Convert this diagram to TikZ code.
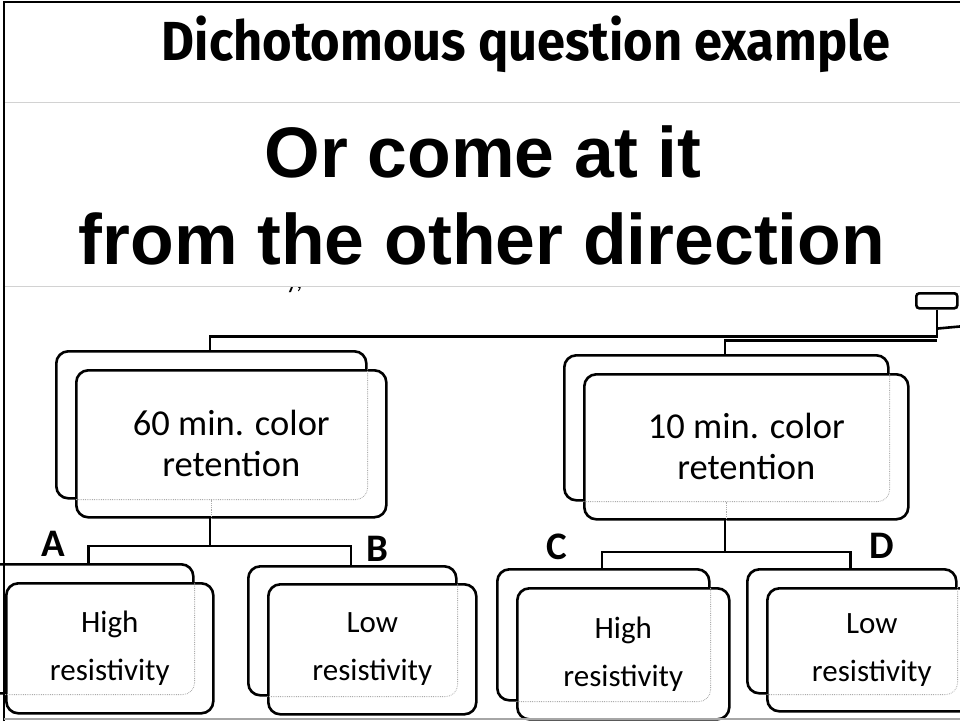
\documentclass[tikz,border=0pt]{standalone}
\usepackage{fontspec}
\setmainfont{Carlito}
\newfontfamily\headfont{Fira Sans}
\newfontfamily\bigfont{Liberation Sans}
\usepackage{tikz}

\definecolor{rulegray}{HTML}{D2D2D2}
\definecolor{ghostgray}{HTML}{ABABAB}

\tikzset{
  box/.style={draw, line width=2.6pt, rounded corners=12pt, fill=white,
    inner sep=0pt, anchor=north west, align=center},
  link/.style={line width=2.6pt},
  ghost/.style={draw=ghostgray, line width=0.8pt, densely dotted},
  letter/.style={font=\bfseries\fontsize{39}{39}\selectfont},
  upper/.style={font=\fontsize{36.5}{41}\selectfont},
  lower/.style={font=\fontsize{31}{48}\selectfont},
}

\begin{document}
\begin{tikzpicture}[x=1pt,y=-1pt]
\useasboundingbox (0,0) rectangle (960,721);
\clip (0,0) rectangle (960,721);

% heading
\draw [rulegray, line width=1pt] (5,102) -- (960,102);
\draw [rulegray, line width=1pt] (5,286) -- (960,286);
\node [anchor=base] (title) at (526,60)
  {\scalebox{0.92}[1]{\headfont\bfseries\fontsize{55}{60}\selectfont Dichotomous question example}};
\node [anchor=base] (sub1) at (483,177)
  {\bigfont\bfseries\fontsize{71.5}{80}\selectfont Or come at it};
\node [anchor=base] (sub2) at (482,264)
  {\bigfont\bfseries\fontsize{71.5}{80}\selectfont from the other direction};
\begin{scope}
  \clip (270,287) rectangle (340,300);
  \node [anchor=base west, inner sep=0pt, text height=0pt] (frag) at (286,288)
    {\fontsize{26}{26}\selectfont y,};
\end{scope}

% connectors
\node [box, minimum width=41pt, minimum height=15pt, rounded corners=3pt] (root) at (915,292) {};
\coordinate (stub) at (965,326);
\draw [link] (root.south) -- ++(0,27) -| (210,350);
\draw [link] ([yshift=-31pt]root.south) -| (725,354);
\draw [link] ([yshift=-19pt]root.south) -- (stub);
\draw [link] (210,497) -- ++(0,49) -| (88.5,563);
\draw [link] (210,497) -- ++(0,49) -| (351,565);
\draw [link] (725,499) -- ++(0,53) -| (602,568);
\draw [link] (725,499) -- ++(0,53) -| (850.5,568);

% 60 min. branch
\node [box, minimum width=310pt, minimum height=147pt] (Lb) at (55,350) {};
\node [box, minimum width=310pt, minimum height=147pt, upper] (Lf) at (75,369) {60 min. color\\retention};
\node [box, minimum width=207pt, minimum height=129pt] (Ab) at (-15,563) {};
\node [box, minimum width=207pt, minimum height=130pt, lower] (Af) at (5,582) {High\\resistivity};
\node [box, minimum width=208pt, minimum height=129pt] (Bb) at (247,565) {};
\node [box, minimum width=208pt, minimum height=130pt, lower] (Bf) at (267,583) {Low\\resistivity};

% 10 min. branch
\node [box, minimum width=324pt, minimum height=145pt] (Rb) at (563,354) {};
\node [box, minimum width=324pt, minimum height=145pt, upper] (Rf) at (583,373) {10 min. color\\retention};
\node [box, minimum width=212pt, minimum height=131pt] (Cb) at (496,568) {};
\node [box, minimum width=212pt, minimum height=131pt, lower] (Cf) at (516,587) {High\\resistivity};
\node [box, minimum width=209pt, minimum height=124pt] (Db) at (746,568) {};
\node [box, minimum width=209pt, minimum height=123pt, lower] (Df) at (766,587) {Low\\resistivity};

% outlines seen through the front boxes
\begin{scope}
  \clip (Lf.south west) rectangle (Lf.north east);
  \draw [ghost, rounded corners=12pt] (Lb.south west) rectangle (Lb.north east);
  \draw [ghost] (Lb.south) -- (Lb.south |- Lf.south);
\end{scope}
\begin{scope}
  \clip (Rf.south west) rectangle (Rf.north east);
  \draw [ghost, rounded corners=12pt] (Rb.south west) rectangle (Rb.north east);
  \draw [ghost] (Rb.south) -- (Rb.south |- Rf.south);
\end{scope}
\begin{scope}
  \clip (Af.south west) rectangle (Af.north east);
  \draw [ghost, rounded corners=12pt] (Ab.south west) rectangle (Ab.north east);
\end{scope}
\begin{scope}
  \clip (Bf.south west) rectangle (Bf.north east);
  \draw [ghost, rounded corners=12pt] (Bb.south west) rectangle (Bb.north east);
\end{scope}
\begin{scope}
  \clip (Cf.south west) rectangle (Cf.north east);
  \draw [ghost, rounded corners=12pt] (Cb.south west) rectangle (Cb.north east);
\end{scope}
\begin{scope}
  \clip (Df.south west) rectangle (Df.north east);
  \draw [ghost, rounded corners=12pt] (Db.south west) rectangle (Db.north east);
\end{scope}

% branch letters
\node [letter] (labA) at (53,544) {A};
\node [letter] (labB) at (377,549) {B};
\node [letter] (labC) at (557,547) {C};
\node [letter] (labD) at (882,546) {D};

% frame
\draw [line width=2pt] (4,721) -- (4,2) -- (960,2);
\draw [gray!70, line width=1.2pt] (4,719) -- (960,719);
\end{tikzpicture}
\end{document}
